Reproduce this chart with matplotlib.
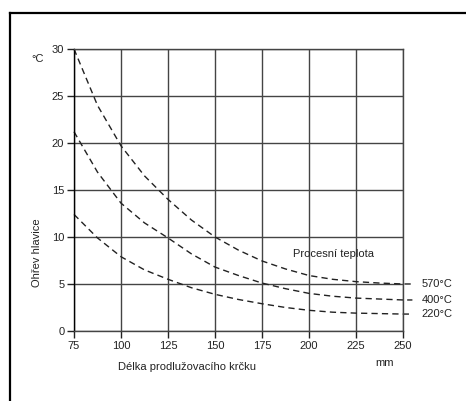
import numpy as np
import matplotlib.pyplot as plt
from matplotlib.lines import Line2D

plt.rcParams['font.family'] = ['Liberation Sans', 'DejaVu Sans']

# curve data (mm vs. heating in °C)
length_mm = [75, 87.5, 100, 112.5, 125, 137.5, 150, 162.5, 175, 187.5, 200, 212.5, 225, 237.5, 250, 255]
heat_570 = [30.0, 24.0, 19.7, 16.5, 14.0, 11.8, 10.0, 8.6, 7.45, 6.6, 5.9, 5.5, 5.25, 5.1, 5.0, 5.0]
heat_400 = [21.2, 16.9, 13.6, 11.5, 9.9, 8.2, 6.8, 5.9, 5.1, 4.5, 4.0, 3.7, 3.5, 3.4, 3.3, 3.3]
heat_220 = [12.4, 9.9, 7.9, 6.5, 5.5, 4.6, 3.9, 3.35, 2.9, 2.5, 2.2, 2.0, 1.9, 1.85, 1.8, 1.8]
curve_labels = ['570°C', '400°C', '220°C']
x_ticks = [75, 100, 125, 150, 175, 200, 225, 250]
y_ticks = [0, 5, 10, 15, 20, 25, 30]

fig = plt.figure(figsize=(4.66, 4.01), dpi=100)
ax = fig.add_axes([0.1588, 0.1746, 0.706, 0.7032])

ax.set_xlim(75, 250)
ax.set_ylim(0, 30)
ax.set_xticks(x_ticks)
ax.set_yticks(y_ticks)
ax.grid(True, color='#444444', linewidth=1.0)
ax.set_axisbelow(True)
for side in ['top', 'right', 'bottom']:
    ax.spines[side].set_color('#444444')
    ax.spines[side].set_linewidth(1.0)
ax.spines['left'].set_color('black')
ax.spines['left'].set_linewidth(1.0)
ax.tick_params(length=5, width=1.0, color='#222222', labelsize=8, labelcolor='#222222', pad=2)

for ys, lab in zip([heat_570, heat_400, heat_220], curve_labels):
    ax.plot(length_mm, ys, color='#222222', linestyle=(0, (4.5, 3)), linewidth=1.0, clip_on=False)
    ax.text(length_mm[-1] + 5, ys[-1], lab, fontsize=8, color='#222222', va='center', ha='left')

ax.text(213, 8.2, 'Procesní teplota', fontsize=8, color='#222222', ha='center', va='center')

fig.text(38 / 466, 1 - 59 / 401, '°C', fontsize=8, color='#222222', ha='center', va='center')
fig.text(37 / 466, 1 - 253 / 401, 'Ohřev hlavice', fontsize=8, color='#222222',
         ha='center', va='center', rotation=90)
fig.text(187 / 466, 1 - 367 / 401, 'Délka prodlužovacího krčku', fontsize=8, color='#222222',
         ha='center', va='center')
fig.text(385 / 466, 1 - 363 / 401, 'mm', fontsize=8, color='#222222', ha='center', va='center')

# frame lines at top and left
fig.add_artist(Line2D([9.5 / 466, 1.0], [1 - 12.5 / 401, 1 - 12.5 / 401], color='black', linewidth=1.6))
fig.add_artist(Line2D([9.5 / 466, 9.5 / 466], [0, 1 - 12.5 / 401], color='black', linewidth=1.6))

fig.savefig('out.png', dpi=100)
